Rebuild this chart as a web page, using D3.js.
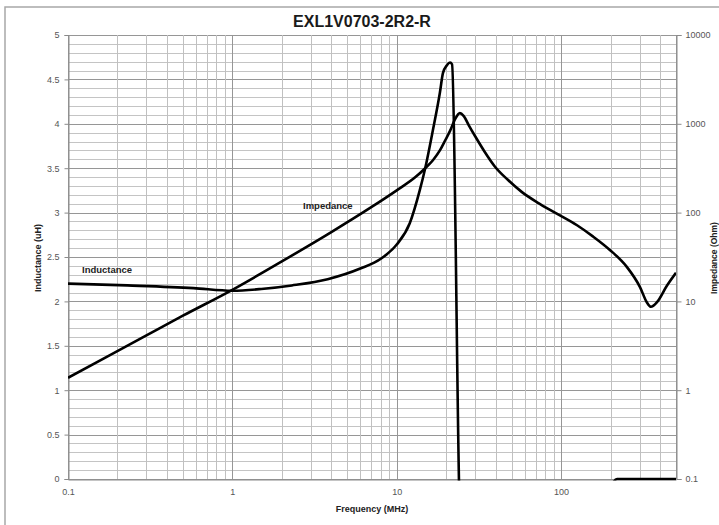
<!DOCTYPE html>
<html><head><meta charset="utf-8">
<script src="https://cdn.jsdelivr.net/npm/d3@7"></script>
<style>
body{margin:0;background:#fff;}
svg{display:block;font-family:"Liberation Sans",Arial,sans-serif;}
</style></head>
<body><svg id="c" width="719" height="525"></svg>
<script>
// ---- data ----
const title = "EXL1V0703-2R2-R";
const xTickValues = [0.1, 1, 10, 100];
const leftTickValues = [0, 0.5, 1, 1.5, 2, 2.5, 3, 3.5, 4, 4.5, 5];
const rightTickValues = [0.1, 1, 10, 100, 1000, 10000];

// Inductance (uH) vs frequency (MHz)
const indFreq =   [0.1, 0.23, 0.58, 1.0, 1.5, 2.3, 3.8, 6.0, 8.0, 10, 12, 13.8, 14.9, 16.6, 18.3, 19.1, 20.2, 21.1, 21.7, 23.9, 26, 40, 100, 180, 219, 300, 500];
const indValues = [2.20, 2.18, 2.15, 2.12, 2.14, 2.18, 2.25, 2.37, 2.48, 2.64, 2.88, 3.25, 3.50, 3.93, 4.35, 4.57, 4.66, 4.69, 4.67, 0.0, -3, -2, -1, -0.3, 0.0, 0.0, 0.0];

// Impedance (Ohm) vs frequency (MHz)
const impFreq =   [0.1, 0.3, 0.5, 1.0, 2.0, 4.0, 7.0, 10, 13, 14.9, 16.6, 18.3, 19.8, 21.1, 22.6, 24.2, 25.5, 27.5, 30, 34.4, 39.5, 47.4, 57.8, 72.3, 91.7, 125, 156, 198, 251, 302, 332, 352, 383, 440, 500];
const impValues = [1.38, 4.14, 6.9, 13.5, 28.2, 60.3, 115, 178, 251, 316, 389, 501, 661, 832, 1122, 1318, 1230, 955, 724, 479, 331, 234, 170, 129, 100, 72, 54, 38, 24.5, 14.5, 9.8, 8.7, 9.8, 15, 21];

// ---- layout ----
const svg = d3.select("#c");
const L = 68, R = 676, T = 35, B = 479;

const x = d3.scaleLog().domain([0.1, 500]).range([L, R]);
const yL = d3.scaleLinear().domain([0, 5]).range([B, T]);
const yR = d3.scaleLog().domain([0.1, 10000]).range([B, T]);

// outer frame
svg.append("rect").attr("x",5).attr("y",7).attr("width",800).attr("height",800)
  .attr("fill","none").attr("stroke","#a8a8a8").attr("stroke-width",1.5);

// grid: horizontal minor (0.1) and major (0.5)
const g = svg.append("g");
const hMinor = d3.range(0, 5.001, 0.1);
g.selectAll(".hm").data(hMinor).enter().append("line")
  .attr("x1",L).attr("x2",R).attr("y1",d=>Math.round(yL(d))+0.5).attr("y2",d=>Math.round(yL(d))+0.5)
  .attr("stroke", d => (Math.abs(d*2 - Math.round(d*2))<1e-6) ? "#969696" : "#c4c4c4")
  .attr("stroke-width",1);

// vertical grid: decades major, 2..9 minor
const vLines = [];
[0.1,1,10,100].forEach(dec => { for (let k=1;k<=9;k++){ const v=dec*k; if (v<=500) vLines.push({v, major:k===1}); } });
vLines.push({v:500, major:true});
g.selectAll(".vl").data(vLines).enter().append("line")
  .attr("y1",T).attr("y2",B).attr("x1",d=>Math.round(x(d.v))+0.5).attr("x2",d=>Math.round(x(d.v))+0.5)
  .attr("stroke", d => d.major ? "#969696" : "#c0c0c0").attr("stroke-width",1);

// axes
const axL = d3.axisLeft(yL).tickValues(leftTickValues).tickSize(4).tickPadding(5).tickFormat(d3.format("~g"));
const gL = svg.append("g").attr("transform",`translate(${L+0.5},0)`).call(axL);
const axRt = d3.axisRight(yR).tickValues(rightTickValues).tickSize(5).tickPadding(4).tickFormat(d => d3.format("~g")(d));
const gR = svg.append("g").attr("transform",`translate(${R+0.5},0)`).call(axRt);
const axB = d3.axisBottom(x).tickValues(xTickValues).tickSize(0).tickPadding(9).tickFormat(d3.format("~g"));
const gB = svg.append("g").attr("transform",`translate(0,${B+0.5})`).call(axB);
[gL,gR,gB].forEach(a => {
  a.selectAll(".domain").attr("stroke","#8a8a8a");
  a.selectAll(".tick line").attr("stroke","#8a8a8a");
  a.selectAll("text").attr("fill","#555").attr("font-size",9).attr("font-family","'Liberation Sans',Arial,sans-serif");
});

// clip
svg.append("clipPath").attr("id","clip").append("rect").attr("x",L).attr("y",T-3).attr("width",R-L).attr("height",B-T+4.5);

const indData = indFreq.map((f,i)=>({f, v:indValues[i]}));
const impData = impFreq.map((f,i)=>({f, v:impValues[i]}));

const lineInd = d3.line().x(d=>x(d.f)).y(d=>yL(d.v)).curve(d3.curveMonotoneX);
const lineImp = d3.line().x(d=>x(d.f)).y(d=>yR(d.v)).curve(d3.curveMonotoneX);

const cg = svg.append("g").attr("clip-path","url(#clip)");
cg.append("path").datum(indData).attr("d",lineInd).attr("fill","none").attr("stroke","#000").attr("stroke-width",2.6).attr("stroke-linejoin","round");
cg.append("path").datum(impData).attr("d",lineImp).attr("fill","none").attr("stroke","#000").attr("stroke-width",2.6).attr("stroke-linejoin","round");

// labels
svg.append("text").attr("x",362).attr("y",27).attr("text-anchor","middle")
  .attr("font-size",16).attr("font-weight","bold").attr("fill","#1a1a1a").text(title);
svg.append("text").attr("x",82).attr("y",273).attr("font-size",9.5).attr("font-weight","bold").attr("fill","#222").text("Inductance");
svg.append("text").attr("x",303).attr("y",209).attr("font-size",9.5).attr("font-weight","bold").attr("fill","#222").text("Impedance");
svg.append("text").attr("transform","translate(41,258) rotate(-90)").attr("text-anchor","middle")
  .attr("font-size",9).attr("font-weight","bold").attr("fill","#222").text("Inductance (uH)");
svg.append("text").attr("transform","translate(717,258) rotate(-90)").attr("text-anchor","middle")
  .attr("font-size",8.5).attr("font-weight","bold").attr("fill","#222").text("Impedance (Ohm)");
svg.append("text").attr("x",372).attr("y",512).attr("text-anchor","middle")
  .attr("font-size",9).attr("font-weight","bold").attr("fill","#222").text("Frequency (MHz)");
</script></body></html>
